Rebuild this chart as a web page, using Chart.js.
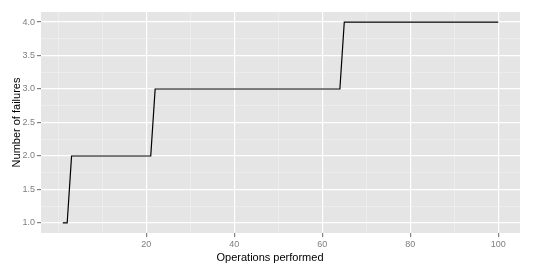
<!DOCTYPE html>
<html>
<head>
<meta charset="utf-8">
<script src="https://cdn.jsdelivr.net/npm/chart.js@4/dist/chart.umd.min.js"></script>
<style>
  html, body { margin: 0; padding: 0; background: #fff; }
  #wrap { width: 540px; height: 270px; }
</style>
</head>
<body>
<div id="wrap"><canvas id="chart" width="540" height="270"></canvas></div>
<script>
// corner points of the failure count curve
const operations = [1, 2, 3, 21, 22, 64, 65, 100];
const failures   = [1, 1, 2, 2,  3,  3,  4,  4];

// axis breaks
const xTicks = [0, 10, 20, 30, 40, 50, 60, 70, 80, 90, 100];
const xLabels = [20, 40, 60, 80, 100];
const yTicks = [1, 1.25, 1.5, 1.75, 2, 2.25, 2.5, 2.75, 3, 3.25, 3.5, 3.75, 4];
const yLabels = [1, 1.5, 2, 2.5, 3, 3.5, 4];

const xTitulo = 'Operations performed';
const fuente = 'Liberation Sans, Arial, sans-serif';

const puntos = operations.map((x, i) => ({ x: x, y: failures[i] }));

// fondo gris del panel (estilo ggplot) y título del eje x centrado en la figura
const panelFondo = {
  id: 'panelFondo',
  beforeDraw(chart) {
    const a = chart.chartArea;
    const ctx = chart.ctx;
    ctx.save();
    ctx.fillStyle = '#e5e5e5';
    ctx.fillRect(a.left, a.top, a.right - a.left, a.bottom - a.top);
    ctx.restore();
  },
  afterDraw(chart) {
    const ctx = chart.ctx;
    ctx.save();
    ctx.fillStyle = '#000';
    ctx.font = '11px ' + fuente;
    ctx.textAlign = 'center';
    ctx.textBaseline = 'middle';
    ctx.fillText(xTitulo, chart.width / 2, 258);
    ctx.restore();
  }
};

function esMayor(lista, v) {
  return lista.some(t => Math.abs(t - v) < 1e-9);
}

new Chart(document.getElementById('chart'), {
  type: 'line',
  data: {
    datasets: [{
      data: puntos,
      borderColor: '#000',
      borderWidth: 1.2,
      pointRadius: 0,
      tension: 0,
      fill: false
    }]
  },
  plugins: [panelFondo],
  options: {
    responsive: false,
    animation: false,
    layout: { padding: { left: 0, right: 20, top: 12, bottom: 0 } },
    plugins: { legend: { display: false }, tooltip: { enabled: false } },
    scales: {
      x: {
        type: 'linear',
        min: -3.95,
        max: 104.95,
        afterBuildTicks: s => { s.ticks = xTicks.map(v => ({ value: v })); },
        afterFit: s => { s.height = 37; },
        border: { display: false },
        grid: {
          color: c => esMayor(xLabels, c.tick.value) ? '#ffffff' : '#f2f2f2',
          lineWidth: c => esMayor(xLabels, c.tick.value) ? 1.2 : 0.6,
          tickColor: c => esMayor(xLabels, c.tick.value) ? '#7f7f7f' : 'rgba(0,0,0,0)',
          tickLength: 4
        },
        ticks: {
          autoSkip: false,
          maxRotation: 0,
          padding: 2,
          color: '#7f7f7f',
          font: { family: fuente, size: 9 },
          callback: v => esMayor(xLabels, v) ? String(v) : ''
        },
        title: { display: false }
      },
      y: {
        type: 'linear',
        min: 0.85,
        max: 4.15,
        afterBuildTicks: s => { s.ticks = yTicks.map(v => ({ value: v })); },
        afterFit: s => { s.width = 41; },
        border: { display: false },
        grid: {
          color: c => esMayor(yLabels, c.tick.value) ? '#ffffff' : '#f2f2f2',
          lineWidth: c => esMayor(yLabels, c.tick.value) ? 1.2 : 0.6,
          tickColor: c => esMayor(yLabels, c.tick.value) ? '#7f7f7f' : 'rgba(0,0,0,0)',
          tickLength: 4
        },
        ticks: {
          autoSkip: false,
          padding: 2,
          color: '#7f7f7f',
          font: { family: fuente, size: 9 },
          callback: v => esMayor(yLabels, v) ? v.toFixed(1) : ''
        },
        title: {
          display: true,
          text: 'Number of failures',
          color: '#000',
          font: { family: fuente, size: 11 },
          padding: { top: 10, bottom: 2 }
        }
      }
    }
  }
});
</script>
</body>
</html>
